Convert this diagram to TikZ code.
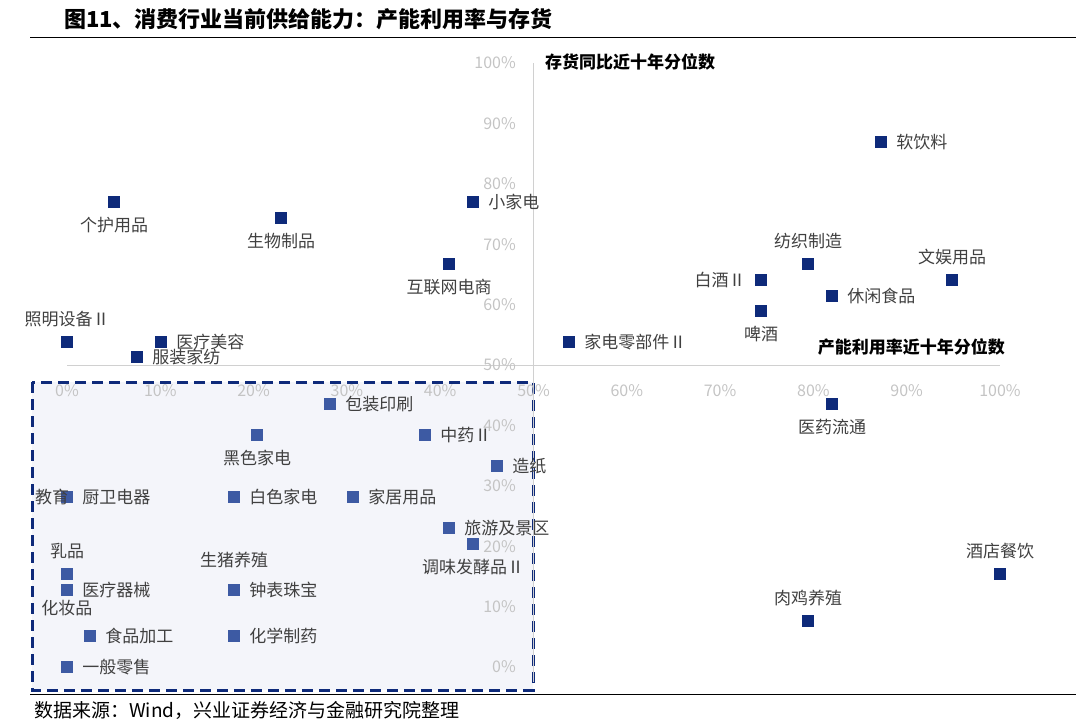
\documentclass[tikz,border=0pt]{standalone}
\usepackage{fontspec}
\setmainfont{Noto Sans CJK SC}
\usetikzlibrary{positioning}
\definecolor{navy}{HTML}{0E2A7A}
\definecolor{lnavy}{HTML}{3D5AA3}
\definecolor{tickgray}{HTML}{C4C4C4}
\definecolor{axgray}{HTML}{D0D0D0}
\definecolor{boxfill}{HTML}{F4F5FA}
\definecolor{lblgray}{HTML}{404040}
\tikzset{
  pt/.style={fill=navy,minimum size=12pt,inner sep=0pt},
  lpt/.style={fill=lnavy,minimum size=12pt,inner sep=0pt},
  lbl/.style={font=\fontsize{17}{19}\selectfont,text=lblgray,inner sep=1pt},
  tick/.style={font=\fontsize{16}{18}\selectfont,text=tickgray,inner sep=0pt},
  axtitle/.style={font=\fontsize{17}{19}\selectfont\bfseries,inner sep=0pt}
}
\begin{document}
\begin{tikzpicture}[x=1pt,y=-1pt]
\useasboundingbox (0,0) rectangle (1080,720);
% title and rules
\node[anchor=west,font=\fontsize{22}{25}\selectfont\bfseries,inner sep=0pt] (title) at (64,19) {图11、消费行业当前供给能力：产能利用率与存货};
\draw[black,line width=0.8pt] (30,37) -- (1076,37);
\draw[black,line width=0.8pt] (30,694) -- (1076,694);
\node[anchor=west,font=\fontsize{19}{21}\selectfont,inner sep=0pt] (src) at (34,710) {数据来源：Wind，兴业证券经济与金融研究院整理};
% dashed box
\draw[fill=boxfill,draw=navy,dash pattern=on 11pt off 6pt,line width=3pt] (32,382) rectangle (533,690);
% axes
\draw[axgray,line width=1pt] (67,365) -- (1000,365);
\draw[axgray,line width=1pt] (533,63) -- (533,682);
\foreach \v in {0,10,...,100} {
  \pgfmathsetmacro{\xx}{67+9.33*\v}
  \pgfmathsetmacro{\yy}{667-6.04*\v}
  \node[tick] at (\xx,391) {\v\%};
  \node[tick,anchor=east] at (516,\yy) {\v\%};
}
\node[axtitle,anchor=west] (ytitle) at (545,62) {存货同比近十年分位数};
\node[axtitle,anchor=east] (xtitle) at (1005,347) {产能利用率近十年分位数};
% points outside box: x / y / name / label position
\foreach \x/\y/\t/\p in {881/142/软饮料/right, 473/202/小家电/right, 114/202/个护用品/below,
  281/218/生物制品/below, 449/264/互联网电商/below, 808/264/纺织制造/above,
  952/280/文娱用品/above, 761/280/白酒Ⅱ/left, 832/296/休闲食品/right,
  761/311/啤酒/below, 67/342/照明设备Ⅱ/above, 161/342/医疗美容/right,
  137/357/服装家纺/right, 569/342/家电零部件Ⅱ/right, 832/404/医药流通/below,
  1000/574/酒店餐饮/above, 808/621/肉鸡养殖/above} {
  \node[pt] (p\x-\y) at (\x,\y) {};
  \node[lbl,\p=8pt of p\x-\y] {\t};
}
% points inside box
\foreach \x/\y/\t/\p in {330/404/包装印刷/right, 257/435/黑色家电/below, 425/435/中药Ⅱ/right,
  497/466/造纸/right, 67/497/厨卫电器/right, 234/497/白色家电/right,
  353/497/家居用品/right, 449/528/旅游及景区/right, 473/544/调味发酵品Ⅱ/below,
  67/574/乳品/above, 67/590/医疗器械/right, 234/590/钟表珠宝/right,
  90/636/食品加工/right, 234/636/化学制药/right, 67/667/一般零售/right} {
  \node[lpt] (q\x-\y) at (\x,\y) {};
  \node[lbl,\p=8pt of q\x-\y] {\t};
}
\node[lbl] (edu) at (52,497) {教育};
\node[lbl,below=3pt of q67-590] {化妆品};
\node[lbl,above=15pt of q234-590] {生猪养殖};
\end{tikzpicture}
\end{document}
